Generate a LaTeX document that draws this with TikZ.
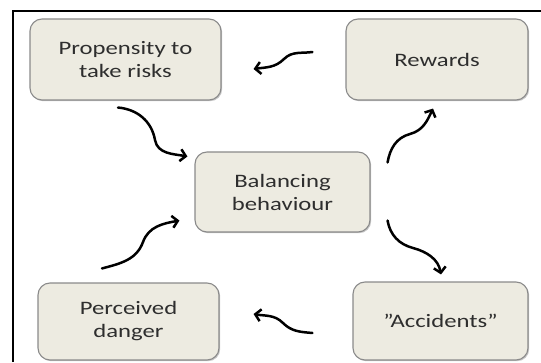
\documentclass[tikz,border=0pt]{standalone}
\usepackage{fontspec}
\setmainfont[FakeStretch=1.3]{Carlito}
\usetikzlibrary{arrows.meta,shadows}
\definecolor{boxfill}{HTML}{EDEBE1}
\definecolor{boxline}{HTML}{8A8A8A}
\definecolor{boxtext}{HTML}{2E2E2E}

\begin{document}
\begin{tikzpicture}[x=1pt,y=1pt,
  box/.style={draw=boxline,line width=1.1pt,fill=boxfill,rounded corners=12pt,
    align=center,text=boxtext,font=\fontsize{19}{23}\selectfont,
    drop shadow={shadow xshift=1.2pt,shadow yshift=-1.2pt,opacity=.45}},
  flow/.style={line width=2.5pt,-{Straight Barb[length=5.5pt,width=12pt]},line cap=round}]
\useasboundingbox (0,0) rectangle (541,362);
\draw[line width=1.5pt] (13,0)--(13,351)--(541,351);
\node[box,minimum width=191pt,minimum height=81pt] (prop) at (125.5,302.5) {Propensity to\\take risks};
\node[box,minimum width=182pt,minimum height=81pt] (rew) at (437,302.5) {Rewards};
\node[box,minimum width=175pt,minimum height=80pt] (bal) at (282.5,170) {Balancing\\behaviour};
\node[box,minimum width=181pt,minimum height=77pt] (perc) at (128.5,40.5) {Perceived\\danger};
\node[box,minimum width=175pt,minimum height=78pt] (acc) at (440.5,41) {”Accidents”};
\draw[flow] ([shift={(-7.5,-7)}]prop.south) to[out=-5,in=100] (155,222) to[out=-80,in=170] ([shift={(-7,-5)}]bal.north west);
\draw[flow] ([shift={(-33,7.5)}]rew.west) to[out=188,in=45] (284,303) to[out=225,in=8] ([shift={(32,-9.5)}]prop.east);
\draw[flow] ([shift={(17,-11)}]bal.north east) to[out=80,in=195] (410,228) to[out=15,in=245] ([shift={(-4,-8)}]rew.south);
\draw[flow] ([shift={(17,12)}]bal.south east) to[out=-80,in=165] (413,114) to[out=-15,in=100] ([shift={(0.5,7)}]acc.north);
\draw[flow] ([shift={(-40,-12)}]acc.west) to[out=175,in=-45] (283,39) to[out=135,in=-10] ([shift={(34,7.5)}]perc.east);
\draw[flow] ([shift={(-26.5,14)}]perc.north) to[out=15,in=250] (143,120) to[out=70,in=190] ([shift={(-15,12)}]bal.south west);
\end{tikzpicture}
\end{document}
